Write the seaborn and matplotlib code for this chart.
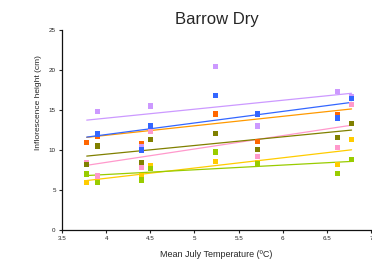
import numpy as np
import pandas as pd
import matplotlib
matplotlib.use("Agg")
import matplotlib.pyplot as plt
import seaborn as sns

sns.set_style("ticks")
plt.rcParams['font.family'] = ['Liberation Sans', 'DejaVu Sans']

# site temperatures (x) and inflorescence heights per series
# (series order = drawing order, last one on top)
temps = [3.78, 3.9, 4.4, 4.5, 5.24, 5.71, 6.62, 6.78]
hauteurs = {
    'rose':   [8.4, 6.75, 7.8, 12.3, 12.1, 9.2, 10.3, 15.7],
    'orange': [10.9, 11.75, 10.8, 15.4, 14.5, 11.1, 14.45, 16.4],
    'violet': [None, 14.8, 10.4, 15.5, 20.4, 13.0, 17.3, 16.7],
    'bleu':   [None, 12.0, 10.0, 13.0, 16.8, 14.5, 14.0, 16.45],
    'olive':  [8.2, 10.5, 8.4, 11.3, 12.1, 10.1, 11.6, 13.3],
    'jaune':  [5.9, 6.0, 6.75, 8.0, 8.6, 8.4, 8.2, 11.3],
    'vert':   [7.0, 5.9, 6.25, 7.7, 9.75, 8.3, 7.05, 8.8],
}
couleurs_points = {'violet': '#cc99ff', 'bleu': '#3366ff', 'orange': '#ff6600',
                   'olive': '#808000', 'rose': '#ff99cc', 'jaune': '#ffcc00',
                   'vert': '#99cc00'}
couleurs_lignes = {'violet': '#cc99ff', 'bleu': '#3366ff', 'orange': '#ff9900',
                   'olive': '#808000', 'rose': '#ff99cc', 'jaune': '#ffcc00',
                   'vert': '#99cc00'}

rows = []
for serie, vals in hauteurs.items():
    for t, h in zip(temps, vals):
        if h is not None:
            rows.append({'serie': serie, 'temp': t, 'hauteur': h})
df = pd.DataFrame(rows)

fig = plt.figure(figsize=(3.72, 2.60), dpi=100)
ax = fig.add_axes([62 / 372, 1 - 230 / 260, 309 / 372, 200 / 260])

# trend lines over the full temperature range
xx = np.array([min(temps), max(temps)])
for serie in hauteurs:
    sub = df[df['serie'] == serie]
    a, b = np.polyfit(sub['temp'], sub['hauteur'], 1)
    sns.lineplot(x=xx, y=a * xx + b, color=couleurs_lignes[serie], lw=0.9, ax=ax)

sns.scatterplot(data=df, x='temp', y='hauteur', hue='serie', palette=couleurs_points,
                marker='s', s=14, linewidth=0, legend=False, ax=ax, zorder=3)

ax.set_xlim(3.5, 7)
ax.set_ylim(0, 25)
ax.set_xticks(np.arange(3.5, 7.01, 0.5))
ax.set_xticklabels(['3.5', '4', '4.5', '5', '5.5', '6', '6.5', '7'])
ax.set_yticks(np.arange(0, 26, 5))
ax.tick_params(labelsize=4.5, length=2.5, width=0.8, colors='#222222', pad=2)
sns.despine(ax=ax)
for s in ['left', 'bottom']:
    ax.spines[s].set_linewidth(0.9)
    ax.spines[s].set_color('#111111')

ax.set_title("Barrow Dry", fontsize=12, pad=4)
ax.set_xlabel("Mean July Temperature (ºC)", fontsize=6.5, labelpad=6)
ax.set_ylabel("Inflorescence height (cm)", fontsize=6, labelpad=8)
ax.yaxis.set_label_coords(-0.065, 0.635)

fig.savefig("out.png", dpi=100)
